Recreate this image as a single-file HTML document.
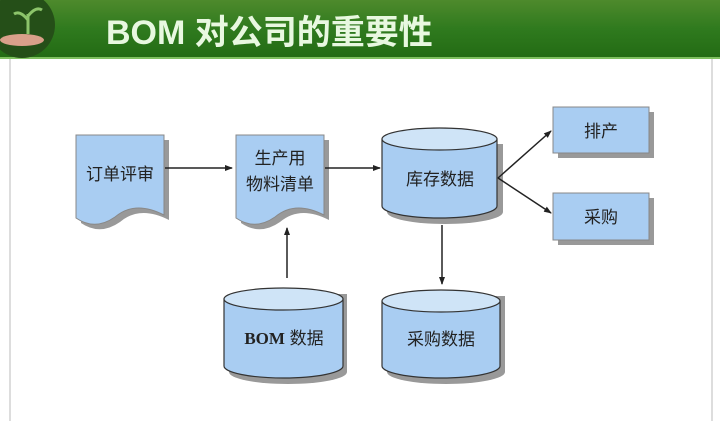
<!DOCTYPE html>
<html><head><meta charset="utf-8"><style>
body{margin:0;width:720px;height:421px;overflow:hidden;background:#fff}
</style></head><body>
<svg width="720" height="421" xmlns="http://www.w3.org/2000/svg" font-family="'Liberation Sans','Noto Sans CJK SC',sans-serif">
<defs>
<linearGradient id="hd" x1="0" y1="0" x2="0" y2="1"><stop offset="0" stop-color="#4e8a2c"/><stop offset="0.5" stop-color="#2f7a1e"/><stop offset="1" stop-color="#236b14"/></linearGradient>
<marker id="ar" markerWidth="8" markerHeight="8" refX="7" refY="4" orient="auto" markerUnits="userSpaceOnUse"><path d="M0,1 L8,4 L0,7z" fill="#222"/></marker>
</defs>
<rect x="0" y="0" width="720" height="58" fill="url(#hd)"/>
<rect x="0" y="57" width="720" height="2" fill="#7fc060"/>
<circle cx="22" cy="25" r="33" fill="#254f18"/>
<ellipse cx="22" cy="40" rx="22" ry="6" fill="#d9a08a"/>
<path d="M28 34 L28 14 M28 20 Q20 10 14 14 M28 16 Q36 6 42 10" stroke="#8cc46a" stroke-width="3" fill="none"/>
<text x="106" y="44" font-size="34" font-weight="bold" fill="#e8f8e0">BOM 对公司的重要性</text>
<line x1="10" y1="59" x2="10" y2="421" stroke="#bbb"/>
<line x1="712" y1="59" x2="712" y2="421" stroke="#bbb"/>
<g fill="#999">
<path d="M81 140 H169 V220 Q140 205 120 222 Q100 236 81 223 Z"/>
<path d="M241 140 H329 V220 Q300 205 280 222 Q260 236 241 223 Z"/>
<rect x="558" y="112" width="96" height="46"/>
<rect x="558" y="198" width="96" height="47"/>
<path d="M387 144 V212 A58 12 0 0 0 503 212 V144 Z"/>
<path d="M229 294 V372 A59 12 0 0 0 347 372 V294 Z"/>
<path d="M387 296 V372 A59 12 0 0 0 505 372 V296 Z"/>
</g>
<g fill="#a9cdf2" stroke="#888" stroke-width="1">
<path d="M76 135 H164 V215 Q135 200 115 217 Q95 231 76 218 Z"/>
<path d="M236 135 H324 V215 Q295 200 275 217 Q255 231 236 218 Z"/>
<rect x="553" y="107" width="96" height="46"/>
<rect x="553" y="193" width="96" height="47"/>
</g>
<g fill="#a9cdf2" stroke="#333" stroke-width="1.2">
<path d="M382 139 V206 A57.5 12 0 0 0 497 206 V139"/>
<ellipse cx="439.5" cy="139" rx="57.5" ry="11" fill="#cfe4f7"/>
<path d="M224 299 V366 A59.5 12 0 0 0 343 366 V299"/>
<ellipse cx="283.5" cy="299" rx="59.5" ry="11" fill="#cfe4f7"/>
<path d="M382 301 V366 A59 12 0 0 0 500 366 V301"/>
<ellipse cx="441" cy="301" rx="59" ry="11" fill="#cfe4f7"/>
</g>
<g stroke="#222" stroke-width="1.5" fill="none" marker-end="url(#ar)">
<line x1="165" y1="168" x2="232" y2="168"/>
<line x1="325" y1="168" x2="380" y2="168"/>
<line x1="498" y1="178" x2="551" y2="131"/>
<line x1="498" y1="178" x2="551" y2="213"/>
<line x1="442" y1="225" x2="442" y2="284"/>
<line x1="287" y1="278" x2="287" y2="228"/>
</g>
<g font-size="17" fill="#222" text-anchor="middle">
<text x="120" y="180">订单评审</text>
<text x="280" y="164">生产用</text>
<text x="280" y="190">物料清单</text>
<text x="440" y="185">库存数据</text>
<text x="601" y="137">排产</text>
<text x="601" y="223">采购</text>
<text x="441" y="345">采购数据</text>
<text x="284" y="344"><tspan font-family="'Liberation Serif',serif" font-weight="bold">BOM</tspan> 数据</text>
</g>
</svg>
</body></html>
